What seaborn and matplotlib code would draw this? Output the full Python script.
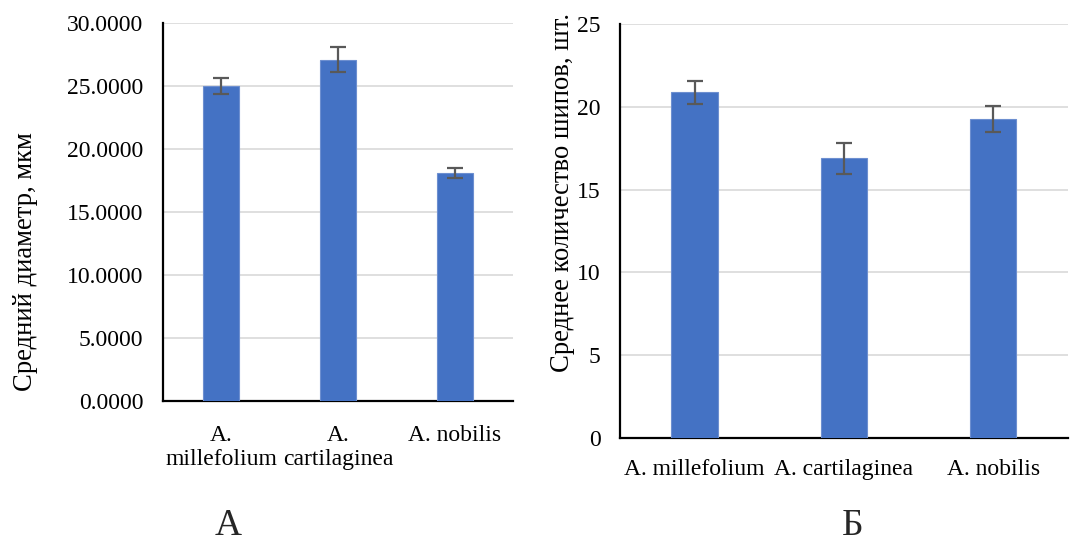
import matplotlib
matplotlib.use("Agg")
import matplotlib.pyplot as plt
import matplotlib.ticker as mticker
import seaborn as sns
import pandas as pd

# Species and measurements
species_a = ["A.\nmillefolium", "A.\ncartilaginea", "A. nobilis"]
diameter_mean = [25.0, 27.1, 18.1]
diameter_err = [0.6, 1.0, 0.43]

species_b = ["A. millefolium", "A. cartilaginea", "A. nobilis"]
spines_mean = [20.87, 16.88, 19.27]
spines_err = [0.70, 0.95, 0.77]

BAR = "#4472C4"
ERR = "#595959"
GRID = "#D9D9D9"
FONT = "Liberation Serif"

sns.set_theme(style="white")
plt.rcParams["font.family"] = [FONT, "DejaVu Serif"]

fig = plt.figure(figsize=(10.78, 5.45), dpi=100)
ax1 = fig.add_axes([0.1512, 0.2642, 0.3247, 0.6936])
ax2 = fig.add_axes([0.5751, 0.1963, 0.4156, 0.7597])


def draw(ax, labels, means, errs, ymax, fmt, ylabel, label_xy, xpad):
    df = pd.DataFrame({"species": labels, "value": means})
    sns.barplot(data=df, x="species", y="value", color=BAR, width=0.31,
                saturation=1, edgecolor="#6d8fd0", linewidth=0.8, ax=ax,
                zorder=3)
    centers = [p.get_x() + p.get_width() / 2 for p in ax.patches]
    ax.errorbar(centers, means, yerr=errs, fmt="none", ecolor=ERR,
                elinewidth=1.6, capsize=6, capthick=1.6, zorder=4)
    ax.set_ylim(0, ymax)
    ax.set_xlim(-0.5, 2.5)
    ax.yaxis.set_major_locator(mticker.MultipleLocator(5))
    ax.yaxis.set_major_formatter(mticker.FormatStrFormatter(fmt))
    ax.grid(axis="y", color=GRID, linewidth=1.2, zorder=0)
    ax.set_axisbelow(True)
    for s in ("top", "right"):
        ax.spines[s].set_visible(False)
    for s in ("left", "bottom"):
        ax.spines[s].set_color("black")
        ax.spines[s].set_linewidth(1.6)
    ax.tick_params(axis="both", length=0, labelsize=17, colors="black")
    ax.tick_params(axis="y", pad=14)
    ax.tick_params(axis="x", pad=xpad)
    ax.set_xlabel("")
    ax.set_ylabel(ylabel, fontsize=19.2, color="black")
    ax.yaxis.set_label_coords(*label_xy)


draw(ax1, species_a, diameter_mean, diameter_err, 30, "%.4f",
     "Средний диаметр, мкм", (-0.357, 0.369), 17)
draw(ax2, species_b, spines_mean, spines_err, 25, "%d",
     "Среднее количество шипов, шт.", (-0.101, 0.593), 15)

fig.text(228 / 1078, 1 - 526 / 545, "А", fontsize=27, ha="center", va="center")
fig.text(853 / 1078, 1 - 526 / 545, "Б", fontsize=27, ha="center", va="center")

fig.savefig("out.png", dpi=100, facecolor="white")
